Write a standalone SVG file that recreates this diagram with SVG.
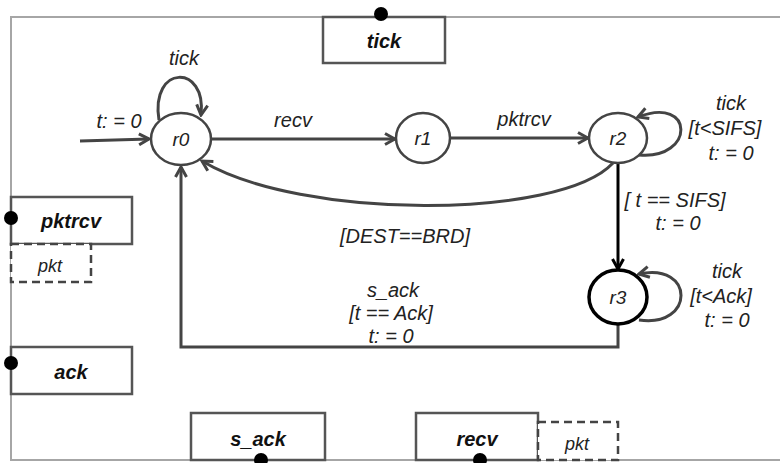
<svg xmlns="http://www.w3.org/2000/svg" width="780" height="463" viewBox="0 0 780 463">
<style>
.frame{fill:none;stroke:#a6a6a6;stroke-width:2}
.box{fill:#fff;stroke:#555;stroke-width:2.5}
.dbox{fill:#fff;stroke:#444;stroke-width:2.5;stroke-dasharray:8,5}
.dot{fill:#000}
.st{fill:#fff;stroke:#444;stroke-width:2.5}
.st3{fill:#fff;stroke:#000;stroke-width:3.5}
.tr{fill:none;stroke:#444;stroke-width:3}
.trb{fill:none;stroke:#000;stroke-width:3}
.lbl{font-family:"Liberation Sans",Arial,sans-serif;font-style:italic;font-size:20px;fill:#222;text-anchor:middle}
.slbl{font-family:"Liberation Sans",Arial,sans-serif;font-style:italic;font-size:19px;fill:#222;text-anchor:middle}
.blbl{font-family:"Liberation Sans",Arial,sans-serif;font-style:italic;font-weight:bold;font-size:20px;fill:#111;text-anchor:middle}
.plbl{font-family:"Liberation Sans",Arial,sans-serif;font-style:italic;font-size:18px;fill:#222;text-anchor:middle}
</style>
<defs>
<marker id="ah" viewBox="0 0 14 14" refX="12" refY="7" markerWidth="14" markerHeight="14" markerUnits="userSpaceOnUse" orient="auto">
<path d="M2,1.5 L12,7 L2,12.5" fill="none" stroke="#444" stroke-width="3"/>
</marker>
<marker id="ahb" viewBox="0 0 14 14" refX="12" refY="7" markerWidth="14" markerHeight="14" markerUnits="userSpaceOnUse" orient="auto">
<path d="M2,1.5 L12,7 L2,12.5" fill="none" stroke="#000" stroke-width="3"/>
</marker>
</defs>
<rect width="780" height="463" fill="#fff"/>
<path class="frame" d="M790,17 L11,17 L11,460 L790,460"/>

<g id="connectors">
<path class="tr" d="M80,141 L149,139" marker-end="url(#ah)"/>
<path class="tr" d="M159,120 C150,64 207,64 201,115" marker-end="url(#ah)"/>
<path class="tr" d="M212,139 L395,139" marker-end="url(#ah)"/>
<path class="tr" d="M451,138 L588,138" marker-end="url(#ah)"/>
<path class="tr" d="M639,155 C695,160 695,95 638,117" marker-end="url(#ah)"/>
<path class="tr" d="M613,163 C560,220 300,220 202,161" marker-end="url(#ah)"/>
<path class="trb" d="M618,163 L618,269" marker-end="url(#ahb)"/>
<path class="tr" d="M639,320 C695,328 695,262 639,274" marker-end="url(#ah)"/>
<path class="tr" d="M618,324 L618,347 L181,347 L181,167" marker-end="url(#ah)"/>
<text class="lbl" x="119" y="128">t: = 0</text>
<text class="lbl" x="184" y="65">tick</text>
<text class="lbl" x="293" y="127">recv</text>
<text class="lbl" x="524" y="126">pktrcv</text>
<text class="lbl" x="731" y="110">tick</text>
<text class="lbl" x="725" y="135">[t&lt;SIFS]</text>
<text class="lbl" x="731" y="160">t: = 0</text>
<text class="lbl" x="675" y="207">[ t == SIFS]</text>
<text class="lbl" x="678" y="230">t: = 0</text>
<text class="lbl" x="405" y="243">[DEST==BRD]</text>
<text class="lbl" x="727" y="278">tick</text>
<text class="lbl" x="721" y="303">[t&lt;Ack]</text>
<text class="lbl" x="727" y="327">t: = 0</text>
<text class="lbl" x="393" y="297">s_ack</text>
<text class="lbl" x="391" y="320">[t == Ack]</text>
<text class="lbl" x="391" y="343">t: = 0</text>
</g>

<g id="r0"><ellipse class="st" cx="181" cy="139" rx="30" ry="26"/><text class="slbl" x="181" y="146">r0</text></g>
<g id="r1"><ellipse class="st" cx="423" cy="138" rx="27" ry="25"/><text class="slbl" x="423" y="145">r1</text></g>
<g id="r2"><ellipse class="st" cx="618" cy="138" rx="29" ry="25"/><text class="slbl" x="618" y="145">r2</text></g>
<g id="r3"><ellipse class="st3" cx="618" cy="297" rx="29" ry="27"/><text class="slbl" x="618" y="304">r3</text></g>

<g id="port-tick"><rect class="box" x="323" y="17" width="122" height="46"/><circle class="dot" cx="381" cy="14" r="7"/><text class="blbl" x="384" y="48">tick</text></g>
<g id="port-pktrcv"><rect class="box" x="11" y="197" width="121" height="47"/><circle class="dot" cx="11" cy="218" r="7"/><text class="blbl" x="71" y="228">pktrcv</text></g>
<g id="port-pktrcv-pkt"><rect class="dbox" x="11" y="244" width="80" height="38"/><text class="plbl" x="50" y="272">pkt</text></g>
<g id="port-ack"><rect class="box" x="11" y="347" width="121" height="47"/><circle class="dot" cx="11" cy="363" r="7"/><text class="blbl" x="71" y="379">ack</text></g>
<g id="port-s_ack"><rect class="box" x="191" y="413" width="134" height="47"/><circle class="dot" cx="261" cy="460" r="7"/><text class="blbl" x="258" y="446">s_ack</text></g>
<g id="port-recv"><rect class="box" x="416" y="413" width="122" height="47"/><circle class="dot" cx="480" cy="460" r="7"/><text class="blbl" x="477" y="446">recv</text></g>
<g id="port-recv-pkt"><rect class="dbox" x="538" y="422" width="80" height="38"/><text class="plbl" x="577" y="450">pkt</text></g>
</svg>
